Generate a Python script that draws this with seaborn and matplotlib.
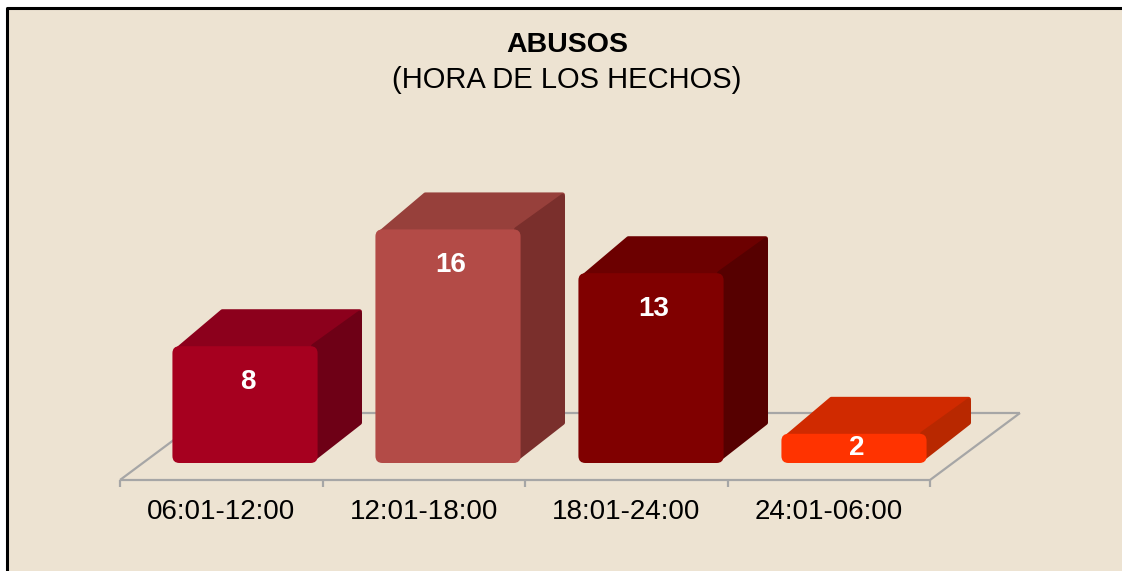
import matplotlib
matplotlib.use("Agg")
import matplotlib.pyplot as plt
import matplotlib.patches as mpatches
import matplotlib.lines as mlines
import seaborn as sns
import pandas as pd

# Data
categories = ["06:01-12:00", "12:01-18:00", "18:01-24:00", "24:01-06:00"]
values = [8, 16, 13, 2]
front_colors = ["#A6001F", "#B34B47", "#800000", "#FF3300"]
top_colors = ["#8C001C", "#97403B", "#6C0000", "#D02A00"]
side_colors = ["#6E0016", "#7A2F2C", "#560000", "#B82800"]

title = "ABUSOS"
subtitle = "(HORA DE LOS HECHOS)"

BG = "#EDE3D2"
W, H = 1122, 571
sns.set_theme(style="white")
plt.rcParams["font.family"] = ["Liberation Sans", "DejaVu Sans"]

fig = plt.figure(figsize=(W / 100, H / 100), dpi=100, facecolor="white")
# panel background with a frame on the left and top edges
fig.patches.append(mpatches.Rectangle((7 / W, 0), 1.0, 1 - 8 / H,
                                      transform=fig.transFigure, facecolor=BG,
                                      edgecolor="none", zorder=-5))
fig.lines.append(mlines.Line2D([7 / W, 7 / W, 1.0], [0, 1 - 8 / H, 1 - 8 / H],
                               transform=fig.transFigure, color="black",
                               linewidth=2.2, zorder=-4))

ax = fig.add_axes([0, 0, 1, 1])
ax.set_facecolor("none")
ax.set_zorder(1)

# scale: 203 px per category, 14.6 px per unit
PX_X, PX_Y = 203.0, 14.6
X0, Y0 = 245.0, 108.0

df = pd.DataFrame({"hora": categories, "n": values})
sns.barplot(data=df, x="hora", y="n", hue="hora", palette=front_colors,
            order=categories, hue_order=categories, width=0.715,
            legend=False, ax=ax, saturation=1, zorder=3)
ax.set_xlim(-X0 / PX_X, (W - X0) / PX_X)
ax.set_ylim(-Y0 / PX_Y, (H - Y0) / PX_Y)
ax.axis("off")

# floor plane
fdx, fdy = 90 / PX_X, 67 / PX_Y
fx0, fx1 = (120 - X0) / PX_X, (930 - X0) / PX_X
fy = -17 / PX_Y
floor_kw = dict(color="#A6A6A6", linewidth=1.6, zorder=1, solid_capstyle="butt")
ax.plot([fx0, fx1, fx1 + fdx], [fy, fy, fy + fdy], **floor_kw)
ax.plot([fx0, fx0 + fdx, fx1 + fdx], [fy, fy + fdy, fy + fdy], **floor_kw)
step = (fx1 - fx0) / len(categories)
for k in range(len(categories) + 1):
    xt = fx0 + k * step
    ax.plot([xt, xt], [fy, fy - 7 / PX_Y], **floor_kw)

# rounded front faces plus top and side faces of each bar
bdx, bdy = 46 / PX_X, 36 / PX_Y
aspect = PX_X / PX_Y
rad = 7 / PX_X
inset = 4 / PX_X
bars = [p for p in ax.patches if isinstance(p, mpatches.Rectangle)]
for i, p in enumerate(bars):
    x0 = p.get_x()
    wd = p.get_width()
    x1 = x0 + wd
    h = p.get_height()
    p.set_visible(False)
    front = mpatches.FancyBboxPatch((x0, 0), wd, h,
                                    boxstyle=f"round,pad=0,rounding_size={rad}",
                                    mutation_aspect=aspect,
                                    facecolor=front_colors[i], edgecolor="none",
                                    zorder=3)
    top = mpatches.Polygon([(x0 + inset, h - 0.3), (x1 - inset, h - 0.3),
                            (x1 + bdx - inset, h + bdy - 0.1),
                            (x0 + bdx + inset, h + bdy - 0.1)],
                           closed=True, facecolor=top_colors[i], edgecolor=top_colors[i],
                           linewidth=3.5, joinstyle="round", zorder=2)
    side = mpatches.Polygon([(x1 - 0.02, 0.3), (x1 + bdx - inset, bdy + 0.3),
                             (x1 + bdx - inset, h + bdy - 0.2), (x1 - 0.02, h)],
                            closed=True, facecolor=side_colors[i], edgecolor=side_colors[i],
                            linewidth=3.5, joinstyle="round", zorder=2.5)
    ax.add_patch(top)
    ax.add_patch(side)
    ax.add_patch(front)
    # value label
    cx = x0 + wd / 2
    ly = max(h - 36 / PX_Y, h / 2)
    ax.text(cx + 3 / PX_X, ly, str(values[i]), ha="center", va="center",
            color="white", fontsize=20, fontweight="bold", zorder=5)

# category labels below the floor
for k, lab in enumerate(categories):
    xc = fx0 + (k + 0.5) * step
    ax.text(xc, (59 - Y0) / PX_Y, lab, ha="center", va="center",
            fontsize=20, color="black", zorder=5)

fig.text(567 / W, 1 - 45 / H, title, ha="center", va="center",
         fontsize=20.5, fontweight="bold", color="black")
fig.text(567 / W, 1 - 80 / H, subtitle, ha="center", va="center",
         fontsize=21, color="black")

fig.savefig("out.png", dpi=100, facecolor="white")
